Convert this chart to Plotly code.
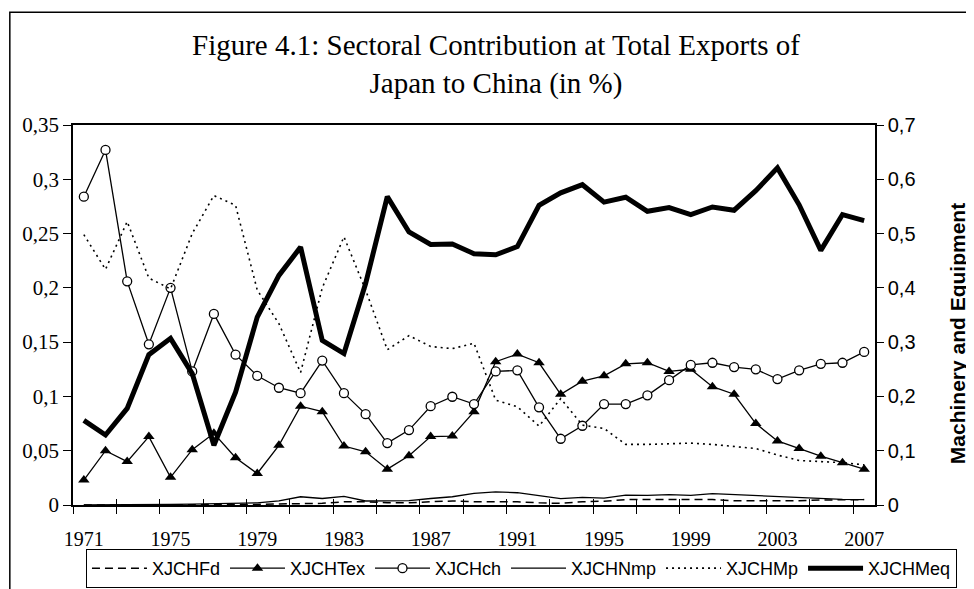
import plotly.graph_objects as go

# Years on the category axis
years = list(range(1971, 2008))

# Shares of total exports (left axis)
xjchfd = [0.0, 0.0, 0.0, 0.0, 0.0, 0.0, 0.0, 0.0, 0.0005, 0.001,
          0.0015, 0.0015, 0.003, 0.003, 0.002, 0.002, 0.003, 0.0037, 0.003, 0.003,
          0.003, 0.002, 0.0015, 0.003, 0.0035, 0.005, 0.005, 0.005, 0.005, 0.005,
          0.004, 0.004, 0.0034, 0.004, 0.0046, 0.005, 0.005]
xjchtex = [0.023, 0.05, 0.04, 0.063, 0.0255, 0.051, 0.066, 0.0435, 0.029, 0.055,
           0.091, 0.086, 0.0543, 0.049, 0.033, 0.0454, 0.063, 0.0635, 0.086, 0.132,
           0.139, 0.131, 0.102, 0.114, 0.119, 0.13, 0.131, 0.123, 0.125, 0.109,
           0.102, 0.075, 0.059, 0.052, 0.045, 0.039, 0.033]
xjchch = [0.284, 0.327, 0.206, 0.148, 0.2, 0.123, 0.176, 0.1385, 0.119, 0.108,
          0.103, 0.133, 0.103, 0.0837, 0.057, 0.069, 0.091, 0.0997, 0.093, 0.123,
          0.124, 0.09, 0.061, 0.073, 0.093, 0.093, 0.101, 0.115, 0.129, 0.131,
          0.127, 0.125, 0.116, 0.124, 0.13, 0.131, 0.141]
xjchnmp = [0.0, 0.0, 0.0, 0.0003, 0.0005, 0.0008, 0.001, 0.0015, 0.002, 0.0037,
           0.0076, 0.006, 0.008, 0.0037, 0.0037, 0.004, 0.006, 0.0076, 0.0107, 0.012,
           0.0113, 0.0088, 0.0058, 0.007, 0.0064, 0.009, 0.0088, 0.0095, 0.0088, 0.0104,
           0.0095, 0.0085, 0.008, 0.007, 0.006, 0.0052, 0.005]
xjchmp = [0.249, 0.217, 0.261, 0.209, 0.199, 0.25, 0.285, 0.276, 0.198, 0.167,
          0.122, 0.2, 0.247, 0.198, 0.143, 0.156, 0.146, 0.144, 0.149, 0.0966,
          0.0905, 0.0727, 0.098, 0.0736, 0.0705, 0.0558, 0.0558, 0.0567, 0.057, 0.0558,
          0.054, 0.052, 0.046, 0.041, 0.04, 0.039, 0.037]

# Machinery and equipment (right axis)
xjchmeq = [0.156, 0.129, 0.178, 0.277, 0.307, 0.242, 0.11, 0.208, 0.346, 0.423,
           0.475, 0.303, 0.279, 0.408, 0.568, 0.503, 0.48, 0.481, 0.463, 0.461,
           0.476, 0.552, 0.575, 0.59, 0.558, 0.567, 0.541, 0.548, 0.535, 0.549,
           0.543, 0.579, 0.621, 0.553, 0.469, 0.535, 0.524]

left_ticks = [0, 0.05, 0.1, 0.15, 0.2, 0.25, 0.3, 0.35]
left_labels = ["0", "0,05", "0,1", "0,15", "0,2", "0,25", "0,3", "0,35"]
right_ticks = [0, 0.1, 0.2, 0.3, 0.4, 0.5, 0.6, 0.7]
right_labels = ["0", "0,1", "0,2", "0,3", "0,4", "0,5", "0,6", "0,7"]
year_labels = list(range(1971, 2008, 4))
boundaries = [1970.5 + 2 * k for k in range(19)]

SERIF = "Liberation Serif, Times New Roman, serif"
SANS = "Liberation Sans, Arial, sans-serif"

# plot area in figure pixels (page has an 8px body margin)
L, R, T, B = 64.7, 867.0, 116.5, 497.0
W, H = R - L, B - T


def px(x):
    return (x - L) / W


def py(y):
    return (B - y) / H


fig = go.Figure()

fig.add_trace(go.Scatter(x=years, y=xjchfd, mode="lines", name="XJCHFd",
                         line=dict(color="black", width=1.5, dash="8px,5px")))
fig.add_trace(go.Scatter(x=years, y=xjchtex, mode="lines+markers", name="XJCHTex",
                         line=dict(color="black", width=1.3),
                         marker=dict(symbol="triangle-up", size=10, color="black")))
fig.add_trace(go.Scatter(x=years, y=xjchch, mode="lines+markers", name="XJCHch",
                         line=dict(color="black", width=1.3),
                         marker=dict(symbol="circle", size=9, color="white",
                                     line=dict(color="black", width=1.3))))
fig.add_trace(go.Scatter(x=years, y=xjchnmp, mode="lines", name="XJCHNmp",
                         line=dict(color="black", width=1.3)))
fig.add_trace(go.Scatter(x=years, y=xjchmp, mode="lines", name="XJCHMp",
                         line=dict(color="black", width=1.6, dash="2px,4px")))
fig.add_trace(go.Scatter(x=years, y=xjchmeq, mode="lines", name="XJCHMeq", yaxis="y2",
                         line=dict(color="black", width=5)))

fig.update_layout(
    width=974, height=589,
    margin=dict(l=L, r=974 - R, t=T, b=589 - B, autoexpand=False),
    paper_bgcolor="white", plot_bgcolor="white",
    showlegend=True,
    legend=dict(
        orientation="h",
        x=px(949), y=py(541), xanchor="right", yanchor="top",
        bordercolor="black", borderwidth=1, bgcolor="white",
        font=dict(family=SANS, size=18, color="black"),
        itemwidth=55, traceorder="normal",
    ),
    xaxis=dict(
        range=[1970.5, 2007.5], tickvals=year_labels, ticktext=[str(y) for y in year_labels],
        ticks="", showgrid=False, zeroline=False,
        showline=True, linecolor="black", linewidth=1.5, mirror=True,
        tickfont=dict(family=SERIF, size=20, color="black"),
        ticklabelstandoff=15,
        minor=dict(tickvals=boundaries, ticks="outside", ticklen=7,
                   tickcolor="black", tickwidth=1, showgrid=False),
    ),
    xaxis3=dict(
        range=[1970.5, 2007.5], overlaying="x", anchor="y", showticklabels=False,
        tickvals=boundaries, ticks="inside", ticklen=6, tickcolor="black", tickwidth=1,
        showgrid=False, zeroline=False, showline=False,
    ),
    yaxis=dict(
        range=[0, 0.35], tickvals=left_ticks, ticktext=left_labels,
        ticks="outside", ticklen=8, tickcolor="black", tickwidth=1,
        showgrid=False, zeroline=False,
        showline=True, linecolor="black", linewidth=1.5,
        tickfont=dict(family=SERIF, size=21, color="black"),
    ),
    yaxis2=dict(
        range=[0, 0.7], tickvals=right_ticks, ticktext=right_labels,
        overlaying="y", side="right",
        ticks="outside", ticklen=7, tickcolor="black", tickwidth=1,
        showgrid=False, zeroline=False,
        showline=True, linecolor="black", linewidth=1.5,
        tickfont=dict(family=SANS, size=20, color="black"),
    ),
)

# dummy trace so that xaxis3 is drawn (no legend entry)
fig.add_trace(go.Scatter(x=[1971], y=[0], xaxis="x3", mode="markers",
                         marker=dict(opacity=0), showlegend=False, hoverinfo="skip"))

fig.add_annotation(
    text="Figure 4.1: Sectoral Contribution at Total Exports of<br>Japan to China (in %)",
    xref="paper", yref="paper", x=px(487.5), y=py(18),
    xanchor="center", yanchor="top", showarrow=False,
    font=dict(family=SERIF, size=29, color="black"),
)
fig.add_annotation(
    text="<b>Machinery and Equipment</b>", textangle=-90,
    xref="paper", yref="paper", x=px(949), y=py(325),
    xanchor="center", yanchor="middle", showarrow=False,
    font=dict(family=SANS, size=21, color="black"),
)

# outer chart frame (only top and left edges are inside the picture)
fig.add_shape(type="rect", xref="paper", yref="paper",
              x0=px(1.5), x1=px(1000), y0=py(620), y1=py(3.7),
              line=dict(color="black", width=1.5), layer="below")

fig.write_html("out.html")
